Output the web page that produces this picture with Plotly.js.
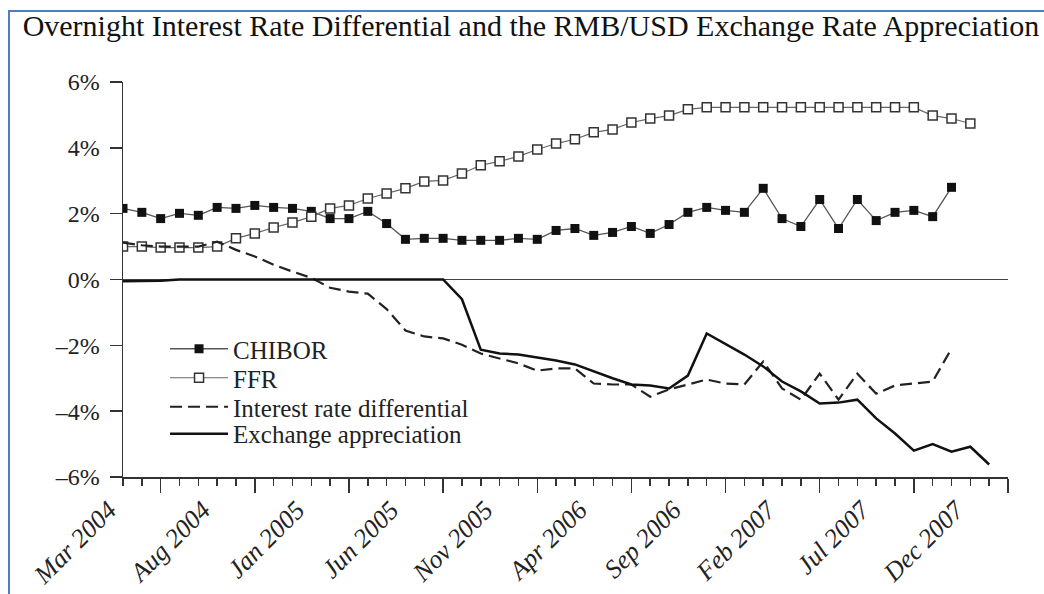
<!DOCTYPE html>
<html>
<head>
<meta charset="utf-8">
<script src="https://cdn.plot.ly/plotly-3.0.1.min.js"></script>
<style>
  html, body { margin: 0; padding: 0; background: #fff; overflow: hidden; }
  #wrap { position: relative; width: 1044px; height: 594px; }
  #chart { width: 1044px; height: 594px; }
  #frame { position: absolute; left: 8px; top: 10px; width: 1100px; height: 700px;
           border-left: 2px solid #4f7fc0; border-top: 2px solid #4f7fc0; pointer-events: none; }
</style>
</head>
<body>
<div id="wrap">
  <div id="chart"></div>
  <div id="frame"></div>
</div>
<script>
// Months on the horizontal axis (monthly observations)
const months = [
  "Jan 2004","Feb 2004","Mar 2004","Apr 2004","May 2004","Jun 2004","Jul 2004","Aug 2004","Sep 2004","Oct 2004","Nov 2004","Dec 2004",
  "Jan 2005","Feb 2005","Mar 2005","Apr 2005","May 2005","Jun 2005","Jul 2005","Aug 2005","Sep 2005","Oct 2005","Nov 2005","Dec 2005",
  "Jan 2006","Feb 2006","Mar 2006","Apr 2006","May 2006","Jun 2006","Jul 2006","Aug 2006","Sep 2006","Oct 2006","Nov 2006","Dec 2006",
  "Jan 2007","Feb 2007","Mar 2007","Apr 2007","May 2007","Jun 2007","Jul 2007","Aug 2007","Sep 2007","Oct 2007","Nov 2007","Dec 2007"
];
const tickLabels = ["Mar 2004","Aug 2004","Jan 2005","Jun 2005","Nov 2005","Apr 2006","Sep 2006","Feb 2007","Jul 2007","Dec 2007"];
const yTickValues = [-6, -4, -2, 0, 2, 4, 6];
const yTickLabels = ["\u20136%", "\u20134%", "\u20132%", "0%", "2%", "4%", "6%"];

// Series values in percent
const chibor = [2.16,2.04,1.85,2.01,1.95,2.19,2.16,2.25,2.19,2.16,2.07,1.85,1.85,2.07,1.70,1.22,1.25,1.25,1.19,1.19,
                1.19,1.25,1.22,1.49,1.55,1.34,1.43,1.61,1.40,1.67,2.04,2.19,2.10,2.04,2.77,1.85,1.61,2.43,1.55,2.43,
                1.79,2.04,2.10,1.91,2.80];
const ffr = [1.00,1.00,0.97,0.97,0.97,1.00,1.25,1.40,1.58,1.73,1.91,2.16,2.25,2.46,2.61,2.77,2.98,3.01,3.22,3.47,
             3.59,3.74,3.95,4.13,4.26,4.47,4.56,4.77,4.89,4.98,5.17,5.23,5.23,5.23,5.23,5.23,5.23,5.23,5.23,5.23,
             5.23,5.23,5.23,4.98,4.89,4.74];
const differential = [1.12,1.04,1.00,1.00,1.00,1.15,0.90,0.70,0.45,0.24,0.05,-0.25,-0.37,-0.43,-0.90,-1.55,-1.73,-1.79,-1.98,-2.25,
                      -2.40,-2.55,-2.77,-2.70,-2.70,-3.16,-3.19,-3.19,-3.56,-3.34,-3.19,-3.04,-3.16,-3.19,-2.49,-3.31,-3.65,-2.86,-3.65,-2.86,
                      -3.47,-3.22,-3.16,-3.10,-2.10];
const appreciation = [-0.05,-0.05,-0.04,0,0,0,0,0,0,0,0,0,0,0,0,0,0,0,-0.60,-2.13,
                      -2.25,-2.28,-2.37,-2.46,-2.58,-2.80,-3.00,-3.19,-3.22,-3.31,-2.92,-1.64,-1.95,-2.28,-2.64,-3.10,-3.40,-3.77,-3.74,-3.65,
                      -4.22,-4.68,-5.20,-5.00,-5.23,-5.08,-5.62];

const xOf = arr => arr.map((v, i) => months.indexOf(months[i]));
const serif = "Liberation Serif, Times New Roman, serif";

const traces = [
  { x: xOf(chibor), y: chibor, name: "CHIBOR", type: "scatter", mode: "lines+markers", legend: "legend",
    line: { color: "#555", width: 1.3 },
    marker: { symbol: "square", size: 9, color: "#111", line: { width: 0 } } },
  { x: xOf(ffr), y: ffr, name: "FFR", type: "scatter", mode: "lines+markers", legend: "legend2",
    line: { color: "#666", width: 1.2 },
    marker: { symbol: "square", size: 9, color: "#fff", line: { color: "#333", width: 1.5 } } },
  { x: xOf(differential), y: differential, name: "Interest rate differential", type: "scatter", mode: "lines", legend: "legend3",
    line: { color: "#222", width: 2.2, dash: "12px,6px" } },
  { x: xOf(appreciation), y: appreciation, name: "Exchange appreciation", type: "scatter", mode: "lines", legend: "legend4",
    line: { color: "#111", width: 2.5 } }
];

const legendBase = (y) => ({ x: 0.0475, xanchor: "left", y: y, yanchor: "middle", bgcolor: "rgba(0,0,0,0)",
  font: { family: serif, size: 25, color: "#222" }, itemwidth: 58 });

const layout = {
  width: 1044, height: 594,
  margin: { l: 123, r: 36, t: 82, b: 117 },
  paper_bgcolor: "#fff", plot_bgcolor: "#fff",
  font: { family: serif, color: "#222" },
  title: { text: "Overnight Interest Rate Differential and the RMB/USD Exchange Rate Appreciation",
           font: { family: serif, size: 30, color: "#111" },
           x: 0.5086, xref: "container", xanchor: "center",
           y: 0.957, yref: "container", yanchor: "middle" },
  showlegend: true,
  legend: legendBase(0.324),
  legend2: legendBase(0.2506),
  legend3: legendBase(0.1772),
  legend4: legendBase(0.1089),
  xaxis: {
    range: [0, months.length - 1],
    showgrid: false, zeroline: false,
    showline: true, linecolor: "#333", linewidth: 1.5,
    ticks: "outside", ticklen: 14, tickwidth: 1.5, tickcolor: "#333",
    tickmode: "array",
    tickvals: tickLabels.map(l => months.indexOf(l)),
    ticktext: tickLabels,
    tickangle: -45,
    ticklabelshift: -52,
    ticklabelstandoff: -8,
    tickfont: { family: serif, size: 26, color: "#222", style: "italic" },
    minor: { tickmode: "linear", tick0: 0, dtick: 1, ticks: "outside", ticklen: 7, tickwidth: 1.5, tickcolor: "#333", showgrid: false }
  },
  yaxis: {
    range: [-6, 6],
    showgrid: false,
    zeroline: true, zerolinecolor: "#444", zerolinewidth: 1.5,
    showline: true, linecolor: "#333", linewidth: 1.5,
    ticks: "outside", ticklen: 12, tickwidth: 1.5, tickcolor: "#333",
    ticklabelstandoff: 5,
    tickmode: "array", tickvals: yTickValues, ticktext: yTickLabels,
    tickfont: { family: serif, size: 24, color: "#222" }
  }
};

Plotly.newPlot("chart", traces, layout, { displayModeBar: false, staticPlot: true });
</script>
</body>
</html>
